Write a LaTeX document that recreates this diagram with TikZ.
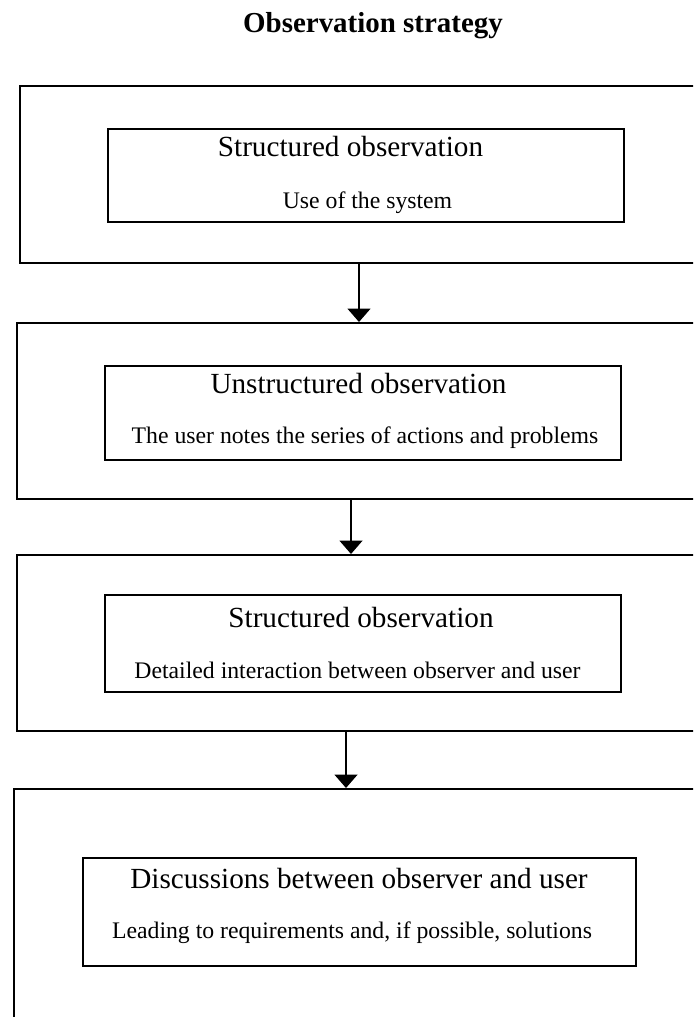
\documentclass[tikz,border=0pt]{standalone}
\usepackage{fontspec}
\setmainfont{Liberation Serif}
\usetikzlibrary{arrows.meta,positioning}

\begin{document}
\begin{tikzpicture}[x=0.75pt,y=-0.75pt]
    % Setup the styles for the boxes, texts and arrows
    \tikzset{outer box/.style={
        draw, rectangle, anchor=north west,
        line width=1.5pt, inner sep=0pt,
        minimum width=560pt},
      inner box/.style={
        draw, rectangle, anchor=north west,
        line width=1.5pt, inner sep=0pt},
      head/.style={font=\fontsize{21.9}{24}\selectfont, anchor=base, inner sep=0pt},
      sub/.style={font=\fontsize{17.8}{20}\selectfont, anchor=base, inner sep=0pt},
      flow/.style={-{Triangle[width=17pt,length=10pt]}, line width=1.5pt}}
    \useasboundingbox (0,0) rectangle (693,1017);
    \clip (0,0) rectangle (693,1017);

    % Title
    \node[font=\fontsize{21.7}{24}\selectfont\bfseries, anchor=base, inner sep=0pt]
        (title) at (373,32) {Observation strategy};

    % Draw the outer boxes (they run off the page)
    \node[outer box, minimum height=132.75pt] at (18.6,85) (out1) {};
    \node[outer box, minimum height=132pt]    at (16,322)  (out2) {};
    \node[outer box, minimum height=132pt]    at (16,554)  (out3) {};
    \node[outer box, minimum height=225pt]    at (13.3,788) (out4) {};

    % Draw the inner boxes
    \node[inner box, minimum width=387pt,    minimum height=69.75pt] at (106.5,128) (in1) {};
    \node[inner box, minimum width=387pt,    minimum height=70.5pt]  at (104,365)   (in2) {};
    \node[inner box, minimum width=387pt,    minimum height=72.75pt] at (104,594)   (in3) {};
    \node[inner box, minimum width=414.75pt, minimum height=81pt]    at (82.2,857)  (in4) {};

    % Texts of the inner boxes
    \node[head] at (350.5,156) (head1) {Structured observation};
    \node[sub]  at (367.5,208) (sub1)  {Use of the system};
    \node[head] at (358.5,393) (head2) {Unstructured observation};
    \node[sub]  at (365,443)   (sub2)  {The user notes the series of actions and problems};
    \node[head] at (361,627)   (head3) {Structured observation};
    \node[sub]  at (357.5,678) (sub3)  {Detailed interaction between observer and user};
    \node[head] at (359,888)   (head4) {Discussions between observer and user};
    \node[sub]  at (352,938)   (sub4)  {Leading to requirements and, if possible, solutions};

    % Connect the boxes with arrows
    \coordinate (a1) at (359,0);
    \coordinate (a2) at (351,0);
    \coordinate (a3) at (346,0);
    \draw[flow] (out1.south -| a1) -- (out2.north -| a1);
    \draw[flow] (out2.south -| a2) -- (out3.north -| a2);
    \draw[flow] (out3.south -| a3) -- (out4.north -| a3);
\end{tikzpicture}
\end{document}
